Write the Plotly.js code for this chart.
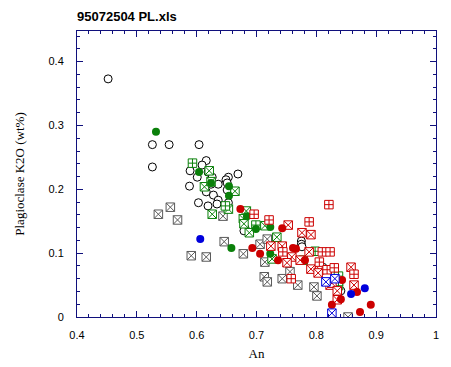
<!DOCTYPE html>
<html>
<head>
<meta charset="utf-8">
<script src="https://cdn.plot.ly/plotly-3.0.1.min.js"></script>
<style>html,body{margin:0;padding:0;background:#fff;}#chart{width:451px;height:367px;}</style>
</head>
<body>
<div id="chart"></div>
<script>
// Open black circles
const openCircleX = [0.452,0.526,0.526,0.554,0.604,0.616,0.609,0.589,0.601,0.588,0.619,0.626,0.624,0.636,0.616,0.628,0.636,0.603,0.619,0.634,0.653,0.649,0.651,0.669,0.651,0.653,0.681,0.679,0.775,0.775,0.776,0.811,0.841];
const openCircleY = [0.373,0.235,0.270,0.270,0.270,0.245,0.238,0.229,0.219,0.205,0.227,0.219,0.208,0.208,0.196,0.191,0.183,0.179,0.174,0.177,0.219,0.215,0.210,0.224,0.199,0.179,0.139,0.135,0.119,0.114,0.110,0.078,0.041];
// Gray square-x
const grayX = [0.536,0.556,0.568,0.644,0.646,0.591,0.616,0.678,0.706,0.718,0.714,0.713,0.718,0.743,0.756,0.769,0.796,0.801,0.853];
const grayY = [0.161,0.172,0.152,0.158,0.118,0.096,0.094,0.099,0.114,0.122,0.086,0.063,0.055,0.060,0.071,0.050,0.047,0.033,0.000];
// Green filled circles
const greenDotX = [0.532,0.604,0.624,0.654,0.654,0.684,0.699,0.723,0.658,0.723];
const greenDotY = [0.290,0.227,0.210,0.205,0.190,0.158,0.138,0.141,0.108,0.099];
// Green square-cross
const greenCrossX = [0.593,0.648,0.699,0.798,0.837,0.837];
const greenCrossY = [0.241,0.174,0.144,0.103,0.064,0.049];
// Green square-x
const greenXX = [0.621,0.613,0.624,0.664,0.653,0.626,0.683,0.678,0.679,0.688,0.714,0.734,0.726,0.778,0.837];
const greenXY = [0.229,0.204,0.212,0.197,0.169,0.161,0.166,0.154,0.146,0.132,0.143,0.125,0.091,0.089,0.056];
// Red square-cross
const redCrossX = [0.696,0.721,0.821,0.788,0.744,0.810,0.823,0.805,0.818,0.830,0.758,0.863];
const redCrossY = [0.161,0.152,0.176,0.149,0.102,0.102,0.102,0.086,0.074,0.077,0.060,0.067];
// Red square-x
const redXX = [0.753,0.776,0.791,0.724,0.743,0.788,0.759,0.773,0.751,0.791,0.806,0.803,0.858,0.863,0.823,0.835,0.826,0.835];
const redXY = [0.144,0.132,0.129,0.111,0.111,0.102,0.094,0.089,0.085,0.075,0.074,0.069,0.078,0.050,0.050,0.027,0.053,0.041];
// Red filled circles
const redDotX = [0.673,0.693,0.706,0.736,0.743,0.761,0.766,0.781,0.843,0.826,0.841,0.868,0.873,0.891];
const redDotY = [0.169,0.108,0.099,0.089,0.139,0.108,0.107,0.089,0.058,0.019,0.028,0.039,0.008,0.019];
// Blue filled circles
const blueDotX = [0.606,0.858,0.881];
const blueDotY = [0.122,0.036,0.045];
// Blue square-x
const blueXX = [0.826,0.831,0.816];
const blueXY = [0.006,0.060,0.055];

const RED = '#cc0000', GREEN = '#0a800a', GRAY = '#5a5a5a', BLUE = '#0000dc', NAVY = '#10107c';

function sq(x, y, sym, col) {
  return {x: x, y: y, type: 'scatter', mode: 'markers', hoverinfo: 'skip',
    marker: {symbol: sym, size: 8.5, color: '#ffffff', line: {color: col, width: 1}}};
}
function dot(x, y, col) {
  return {x: x, y: y, type: 'scatter', mode: 'markers', hoverinfo: 'skip',
    marker: {symbol: 'circle', size: 8, color: col, line: {color: col, width: 0}}};
}

const traces = [
  sq(grayX, grayY, 'square-x', GRAY),
  {x: openCircleX, y: openCircleY, type: 'scatter', mode: 'markers', hoverinfo: 'skip',
   marker: {symbol: 'circle', size: 8, color: '#ffffff', line: {color: '#000000', width: 1}}},
  sq(greenXX, greenXY, 'square-x', GREEN),
  sq(greenCrossX, greenCrossY, 'square-cross', GREEN),
  dot(greenDotX, greenDotY, GREEN),
  sq(redXX, redXY, 'square-x', RED),
  sq(redCrossX, redCrossY, 'square-cross', RED),
  dot(redDotX, redDotY, RED),
  sq(blueXX, blueXY, 'square-x', BLUE),
  dot(blueDotX, blueDotY, BLUE)
];

const axisCommon = {
  showline: true, linecolor: NAVY, linewidth: 1, mirror: 'allticks',
  ticks: 'inside', ticklen: 6, tickwidth: 1, tickcolor: NAVY,
  showgrid: false, zeroline: false,
  tickfont: {family: 'Liberation Sans, Arial, sans-serif', size: 11, color: '#000'},
  minor: {ticks: 'inside', ticklen: 3, tickwidth: 1, tickcolor: NAVY, dtick: 0.02, showgrid: false}
};

const layout = {
  width: 451, height: 367,
  margin: {l: 77, r: 15, t: 31, b: 50, pad: 0},
  paper_bgcolor: '#ffffff', plot_bgcolor: '#ffffff',
  showlegend: false,
  title: {text: '<b>95072504 PL.xls</b>', x: 0, xref: 'paper', xanchor: 'left', y: 0.955, yref: 'container', yanchor: 'middle',
          font: {family: 'Liberation Sans, Arial, sans-serif', size: 13, color: '#000'}},
  xaxis: Object.assign({}, axisCommon, {
    range: [0.4, 1.0], tick0: 0.4, dtick: 0.1, ticklabelstandoff: 8,
    title: {text: 'An', standoff: 8, font: {family: 'Liberation Serif, Times New Roman, serif', size: 13, color: '#000'}}
  }),
  yaxis: Object.assign({}, axisCommon, {
    range: [0, 0.448], tick0: 0, dtick: 0.1, ticklabelstandoff: 10,
    title: {text: 'Plagioclase K2O (wt%)', standoff: 20, font: {family: 'Liberation Serif, Times New Roman, serif', size: 13, color: '#000'}}
  })
};

Plotly.newPlot('chart', traces, layout, {staticPlot: true, displayModeBar: false});
</script>
</body>
</html>
